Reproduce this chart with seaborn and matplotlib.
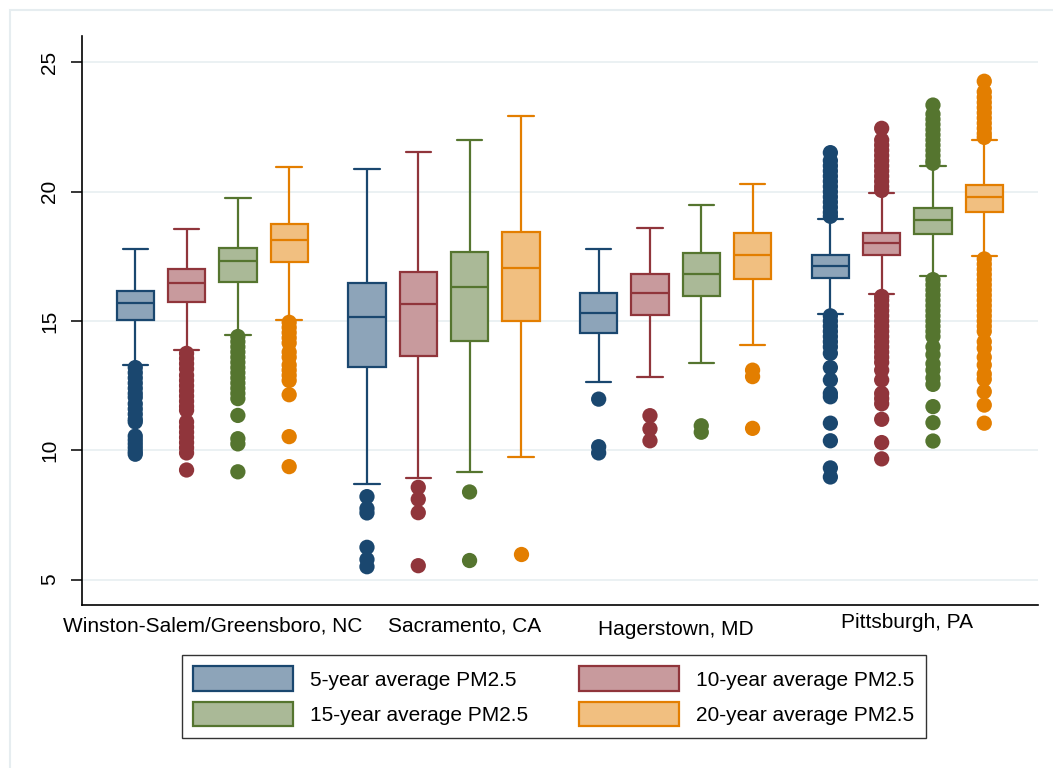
import numpy as np
import pandas as pd
import matplotlib
matplotlib.use("Agg")
import matplotlib.pyplot as plt
import seaborn as sns
from matplotlib.patches import Patch, Rectangle
from matplotlib.transforms import ScaledTranslation

# ---------------- data ----------------
cities = ["Winston-Salem/Greensboro, NC", "Sacramento, CA", "Hagerstown, MD", "Pittsburgh, PA"]
periods = ["5-year average PM2.5", "10-year average PM2.5",
           "15-year average PM2.5", "20-year average PM2.5"]

# rows: city, columns: period (5, 10, 15, 20 year)
lower_whisker = [[13.30, 13.88, 14.47, 15.04],
                 [8.70, 8.94, 9.15, 9.75],
                 [12.66, 12.84, 13.39, 14.06],
                 [15.27, 16.04, 16.74, 17.51]]
q1 = [[15.05, 15.75, 16.52, 17.28],
      [13.23, 13.65, 14.24, 15.01],
      [14.52, 15.24, 15.96, 16.62],
      [16.68, 17.55, 18.38, 19.23]]
median = [[15.70, 16.46, 17.32, 18.14],
          [15.14, 15.65, 16.33, 17.06],
          [15.32, 16.08, 16.82, 17.57],
          [17.13, 18.00, 18.90, 19.80]]
q3 = [[16.16, 17.00, 17.83, 18.75],
      [16.48, 16.91, 17.65, 18.43],
      [16.07, 16.82, 17.62, 18.41],
      [17.55, 18.41, 19.36, 20.27]]
upper_whisker = [[17.79, 18.57, 19.75, 20.94],
                 [20.86, 21.52, 22.01, 22.91],
                 [17.78, 18.61, 19.47, 20.30],
                 [18.95, 19.96, 21.00, 21.98]]

# outside values, per city, for each period
outliers_5yr = [
    [13.2, 13.0, 12.8, 12.6, 12.4, 12.2, 12.05, 11.8, 11.6, 11.4, 11.2, 11.1,
     10.55, 10.4, 10.25, 10.1, 9.95, 9.85],
    [8.21, 7.75, 7.58, 6.25, 5.78, 5.5],
    [11.98, 10.14, 9.9],
    [21.51, 21.2, 21.0, 20.8, 20.6, 20.4, 20.2, 20.0, 19.8, 19.6, 19.4, 19.2, 19.05,
     15.2, 15.0, 14.8, 14.6, 14.4, 14.2, 14.0, 13.75, 13.2, 12.72, 12.2, 12.07,
     11.05, 10.37, 9.32, 8.97],
]
outliers_10yr = [
    [13.75, 13.55, 13.35, 13.15, 12.9, 12.7, 12.5, 12.3, 12.1, 11.9, 11.7, 11.55,
     11.1, 10.9, 10.7, 10.5, 10.3, 10.1, 9.9, 9.24],
    [8.57, 8.11, 7.59, 5.54],
    [11.34, 10.83, 10.37],
    [22.45, 22.0, 21.8, 21.6, 21.4, 21.2, 21.0, 20.8, 20.6, 20.4, 20.2, 20.05,
     15.95, 15.8, 15.6, 15.4, 15.2, 15.0, 14.8, 14.6, 14.4, 14.2, 14.0, 13.8, 13.6,
     13.4, 13.1, 12.72, 12.2, 12.0, 11.8, 11.2, 10.3, 9.67],
]
outliers_15yr = [
    [14.4, 14.2, 14.0, 13.8, 13.6, 13.4, 13.2, 13.0, 12.8, 12.6, 12.4, 12.2, 12.0,
     11.35, 10.45, 10.25, 9.17],
    [8.39, 5.74],
    [10.95, 10.70],
    [23.35, 23.0, 22.8, 22.6, 22.4, 22.2, 22.0, 21.8, 21.6, 21.4, 21.2, 21.1,
     16.6, 16.4, 16.2, 16.0, 15.8, 15.6, 15.4, 15.2, 15.0, 14.8, 14.6, 14.4,
     14.0, 13.7, 13.35, 13.1, 12.8, 12.55, 11.69, 11.07, 10.36],
]
outliers_20yr = [
    [14.95, 14.75, 14.55, 14.35, 14.15, 13.8, 13.6, 13.3, 13.1, 12.9, 12.7, 12.15,
     10.53, 9.37],
    [5.99],
    [13.1, 12.85, 10.85],
    [24.27, 23.86, 23.65, 23.45, 23.25, 23.05, 22.85, 22.65, 22.45, 22.25, 22.1,
     17.4, 17.2, 17.0, 16.8, 16.6, 16.4, 16.2, 16.0, 15.8, 15.6, 15.4, 15.2, 15.0,
     14.8, 14.6, 14.2, 13.95, 13.6, 13.3, 12.95, 12.75, 12.27, 11.75, 11.05],
]
outliers = [outliers_5yr, outliers_10yr, outliers_15yr, outliers_20yr]

edge_colors = ["#1a476f", "#90353b", "#55752f", "#e37e00"]
fill_colors = ["#8da4b9", "#c89a9d", "#aab997", "#f1bf80"]

# ---------------- frames ----------------
slot = 0.2214
box_rows, out_rows = [], []
for ci, city in enumerate(cities):
    for pi, p in enumerate(periods):
        xpos = ci + (pi - 1.5) * slot
        for stat in (lower_whisker, q1, median, q3, upper_whisker):
            box_rows.append(dict(city=city, period=p, x=xpos, value=stat[ci][pi]))
        for v in outliers[pi][ci]:
            out_rows.append(dict(city=city, period=p, x=xpos, value=v))
box_df = pd.DataFrame(box_rows)
out_df = pd.DataFrame(out_rows)

# ---------------- plot ----------------
sns.set_theme(style="white")
plt.rcParams["font.family"] = ["Liberation Sans", "DejaVu Sans"]

fig = plt.figure(figsize=(10.53, 7.68), dpi=100)
fig.patch.set_facecolor("white")
ax = fig.add_axes([82 / 1053, 1 - 605 / 768, (1038 - 82) / 1053, (605 - 36) / 768])

for pi, p in enumerate(periods):
    sub = box_df[box_df["period"] == p]
    sns.boxplot(data=sub, x="x", y="value", orient="x", native_scale=True,
                width=0.161, whis=(0, 100), showfliers=False,
                color=fill_colors[pi], linecolor=edge_colors[pi], saturation=1,
                linewidth=1.6, capwidths=0.11, ax=ax)

sns.stripplot(data=out_df, x="x", y="value", orient="x", hue="period",
              hue_order=periods, palette=edge_colors, native_scale=True,
              jitter=False, size=11, linewidth=0, legend=False, ax=ax, zorder=1.5)

ax.set_xlim(-0.562, 3.564)
ax.set_ylim(4.02, 26.02)
ax.set_yticks([5, 10, 15, 20, 25])
ax.set_xticks(range(len(cities)))
ax.set_xticklabels(cities)
ax.set_xlabel("")
ax.set_ylabel("")

ax.yaxis.grid(True, color="#e8eff1", linewidth=1.2)
ax.xaxis.grid(False)
ax.set_axisbelow(True)
for side in ("top", "right"):
    ax.spines[side].set_visible(False)
for side in ("left", "bottom"):
    ax.spines[side].set_visible(True)
    ax.spines[side].set_color("black")
    ax.spines[side].set_linewidth(1.2)

ax.tick_params(axis="x", length=0, pad=8, labelsize=15, colors="black")
ax.tick_params(axis="y", length=8, width=1.1, direction="out", pad=8.5,
               labelsize=15, colors="black", left=True)
for lab in ax.get_yticklabels():
    lab.set_rotation(90)
    lab.set_va("center")

# small label nudges as in the reference
shifts = {"Sacramento, CA": (0.21, 0.0), "Hagerstown, MD": (0.0, -0.04),
          "Pittsburgh, PA": (0.0, 0.03)}
for lab in ax.get_xticklabels():
    if lab.get_text() in shifts:
        dx, dy = shifts[lab.get_text()]
        lab.set_transform(lab.get_transform() + ScaledTranslation(dx, dy, fig.dpi_scale_trans))

# legend
order = [0, 2, 1, 3]
handles = [Patch(facecolor=fill_colors[i], edgecolor=edge_colors[i], linewidth=1.6,
                 label=periods[i]) for i in order]
leg = fig.legend(handles=handles, ncol=2, loc="upper left",
                 bbox_to_anchor=(182 / 1053, 1 - 655 / 768),
                 frameon=True, fancybox=False, edgecolor="black", fontsize=15,
                 handlelength=4.8, handleheight=1.45, handletextpad=0.8,
                 columnspacing=2.45, borderpad=0.55, labelspacing=0.5,
                 borderaxespad=0)
leg.get_frame().set_linewidth(1.0)
for t in leg.get_texts():
    t.set_color("black")

# faint outer frame
fig.patches.append(Rectangle((10 / 1053, -0.2), 1.2, 1.2 - 10 / 768 + 0.0,
                             transform=fig.transFigure, fill=False,
                             edgecolor="#e6edf0", linewidth=1.5, zorder=0))

fig.savefig("out.png", dpi=100, facecolor="white")
